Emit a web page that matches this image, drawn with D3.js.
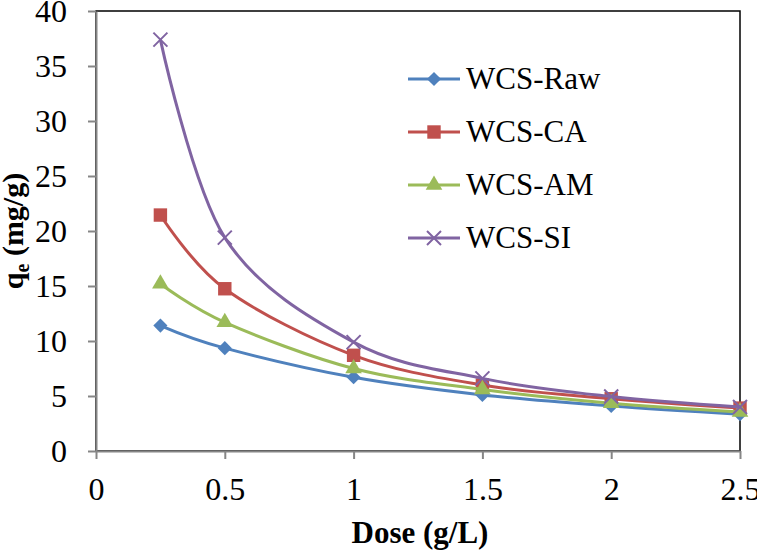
<!DOCTYPE html>
<html>
<head>
<meta charset="utf-8">
<script src="https://cdn.jsdelivr.net/npm/d3@7"></script>
<style>
  body { margin: 0; background: #fff; }
  text { font-family: "Liberation Serif", "Times New Roman", serif; }
</style>
</head>
<body>
<script>
'use strict';

// chart data
const doses = [0.25, 0.5, 1, 1.5, 2, 2.5];
const seriesNames = ["WCS-Raw", "WCS-CA", "WCS-AM", "WCS-SI"];
const rawValues = [11.4, 9.35, 6.7, 5.1, 4.1, 3.35];
const caValues = [21.45, 14.75, 8.7, 6.0, 4.75, 3.9];
const amValues = [15.2, 11.7, 7.5, 5.6, 4.35, 3.55];
const siValues = [37.4, 19.4, 9.9, 6.6, 4.95, 4.0];
const xTicks = [0, 0.5, 1, 1.5, 2, 2.5];
const yTicks = [0, 5, 10, 15, 20, 25, 30, 35, 40];

const width = 757;
const height = 550;
const margin = {top: 11, right: 17, bottom: 99, left: 96};

const colors = ["#4F81BD", "#C0504D", "#9BBB59", "#8064A2"];
const markers = ["diamond", "square", "triangle", "cross"];

const series = seriesNames.map((name, i) => ({
    name: name,
    values: [rawValues, caValues, amValues, siValues][i],
    color: colors[i],
    marker: markers[i]
}));

const svg = d3.select("body")
    .append("svg")
    .attr("width", width)
    .attr("height", height);

let x = d3.scaleLinear()
    .domain([0, 2.5])
    .range([margin.left, width - margin.right]);

let y = d3.scaleLinear()
    .domain([0, 40])
    .range([height - margin.bottom, margin.top]);

// plot area border (top/right show black)
svg.append("rect")
    .attr("x", x(0))
    .attr("y", y(40))
    .attr("width", x(2.5) - x(0))
    .attr("height", y(0) - y(40))
    .attr("fill", "none")
    .attr("stroke", "#000")
    .attr("stroke-width", 1.5);

let xAxis = svg.append("g")
    .attr("transform", "translate(0," + y(0) + ")")
    .call(d3.axisBottom(x).tickValues(xTicks).tickSize(8).tickSizeOuter(0).tickPadding(18)
        .tickFormat(d => d));

let yAxis = svg.append("g")
    .attr("transform", "translate(" + x(0) + ",0)")
    .call(d3.axisLeft(y).tickValues(yTicks).tickSize(8).tickSizeOuter(0).tickPadding(21));

[xAxis, yAxis].forEach(g => {
    g.select(".domain").attr("stroke", "#868686").attr("stroke-width", 2);
    g.selectAll(".tick line").attr("stroke", "#868686").attr("stroke-width", 2);
    g.selectAll(".tick text")
        .attr("fill", "#000")
        .style("font-size", "32px")
        .style("font-family", "Liberation Serif");
});

// axis titles
svg.append("text")
    .attr("x", (x(0) + x(2.5)) / 2 + 2)
    .attr("y", 543)
    .attr("text-anchor", "middle")
    .style("font-size", "31px")
    .style("font-weight", "bold")
    .text("Dose (g/L)");

let yTitle = svg.append("text")
    .attr("transform", "translate(23," + ((y(0) + y(40)) / 2) + ") rotate(-90)")
    .attr("text-anchor", "middle")
    .style("font-size", "30px")
    .style("font-weight", "bold");
yTitle.append("tspan").text("q");
yTitle.append("tspan").attr("dy", 6).style("font-size", "20px").text("e");
yTitle.append("tspan").attr("dy", -6).text(" (mg/g)");

function drawMarker(g, type, color) {
    if (type === "diamond") {
        g.append("path")
            .attr("d", d3.symbol(d3.symbolSquare, 100)())
            .attr("transform", "rotate(45)")
            .attr("fill", color);
    } else if (type === "square") {
        g.append("path")
            .attr("d", d3.symbol(d3.symbolSquare, 180)())
            .attr("fill", color);
    } else if (type === "triangle") {
        g.append("path")
            .attr("d", d3.symbol(d3.symbolTriangle, 120)())
            .attr("fill", color);
    } else {
        g.append("path")
            .attr("d", "M-7,-7L7,7M-7,7L7,-7")
            .attr("stroke", color)
            .attr("stroke-width", 2)
            .attr("fill", "none");
    }
}

let line = d3.line()
    .x(d => x(d[0]))
    .y(d => y(d[1]))
    .curve(d3.curveCardinal.tension(0));

series.forEach(s => {
    let pts = doses.map((d, i) => [d, s.values[i]]);
    svg.append("path")
        .attr("d", line(pts))
        .attr("stroke", s.color)
        .attr("stroke-width", 3)
        .attr("fill", "none");

    pts.forEach(p => {
        let g = svg.append("g")
            .attr("transform", "translate(" + x(p[0]) + "," + y(p[1]) + ")");
        drawMarker(g, s.marker, s.color);
    });
});

// legend
let legend = svg.append("g").attr("transform", "translate(408,79)");
series.forEach((s, i) => {
    let row = legend.append("g").attr("transform", "translate(0," + (i * 53) + ")");
    row.append("line")
        .attr("x1", 0).attr("x2", 52)
        .attr("stroke", s.color)
        .attr("stroke-width", 3);
    drawMarker(row.append("g").attr("transform", "translate(26,0)"), s.marker, s.color);
    row.append("text")
        .attr("x", 58)
        .attr("y", 10)
        .style("font-size", "31px")
        .text(s.name);
});
</script>
</body>
</html>
